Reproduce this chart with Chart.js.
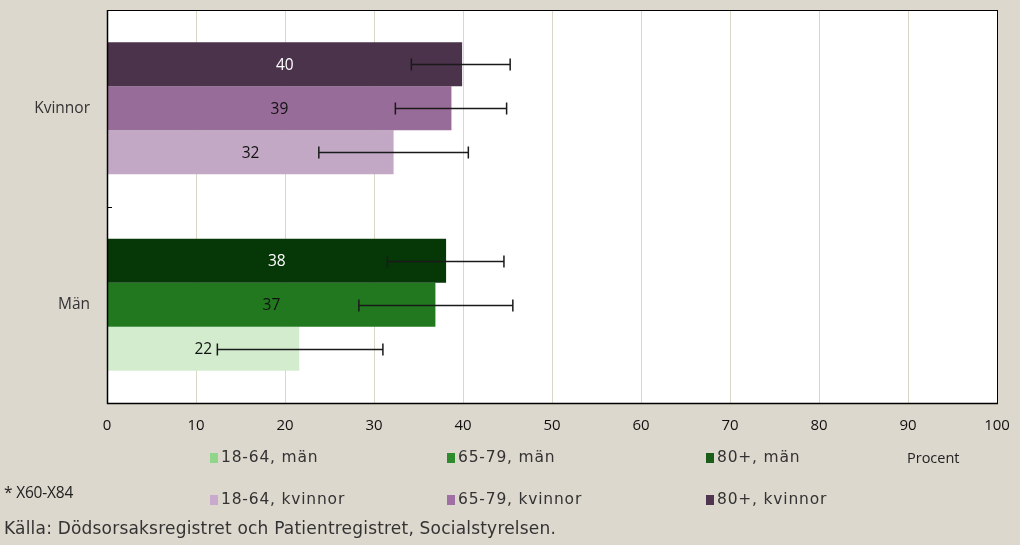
<!DOCTYPE html>
<html>
<head>
<meta charset="utf-8">
<script src="https://cdn.jsdelivr.net/npm/chart.js@4"></script>
<style>
  html, body { margin:0; padding:0; background:#ddd8ce; }
  #wrap { position:relative; width:1020px; height:545px; overflow:hidden; background:#ddd8ce; }
  canvas { position:absolute; left:0; top:0; }
  .lg { position:absolute; font-family:"DejaVu Sans", sans-serif; font-size:15.5px; color:#333; white-space:nowrap; letter-spacing:0.8px; }
  .sw { position:absolute; width:8px; height:10px; }
  .txt { position:absolute; white-space:nowrap; color:#222; }
</style>
</head>
<body>
<div id="wrap">
  <canvas id="c" width="1020" height="545"></canvas>
  <div id="legend"></div>
  <div class="txt" style="left:907px; top:448px; font-family:'Open Sans',sans-serif; font-size:14.5px;">Procent</div>
  <div class="txt" style="left:4px; top:481px; font-family:'Open Sans',sans-serif; font-size:15.5px; letter-spacing:-0.2px;">* X60-X84</div>
  <div class="txt" style="left:4px; top:518px; font-family:'DejaVu Sans',sans-serif; font-size:17px; color:#333; letter-spacing:0.2px;">Källa: Dödsorsaksregistret och Patientregistret, Socialstyrelsen.</div>
</div>
<script>
// ---- Data ----
const categories = ["Kvinnor", "Män"];
const ageGroups = ["80+", "65-79", "18-64"];
const values80 = [39.9, 38.1];
const values6579 = [38.7, 36.9];
const values1864 = [32.2, 21.6];
const errLow80 = [34.2, 31.5];
const errHigh80 = [45.3, 44.6];
const errLow6579 = [32.4, 28.3];
const errHigh6579 = [44.9, 45.6];
const errLow1864 = [23.8, 12.4];
const errHigh1864 = [40.6, 31.0];
const legendLabels = ["18-64, män", "65-79, män", "80+, män", "18-64, kvinnor", "65-79, kvinnor", "80+, kvinnor"];

// ---- Styles ----
const colors80 = ["#4b334b", "#063807"];
const colors6579 = ["#986c98", "#22781f"];
const colors1864 = ["#c2a8c4", "#d3ecce"];
const labelColors80 = ["#ffffff", "#ffffff"];
const labelColors6579 = ["#111111", "#111111"];
const labelColors1864 = ["#111111", "#111111"];
const legendColors = ["#8fd68a", "#2e8b2e", "#1a5e1a", "#c9a9cc", "#a070a4", "#4f3550"];

const datasets = [
  { label: ageGroups[0], data: values80, backgroundColor: colors80, errLow: errLow80, errHigh: errHigh80, labelColor: labelColors80 },
  { label: ageGroups[1], data: values6579, backgroundColor: colors6579, errLow: errLow6579, errHigh: errHigh6579, labelColor: labelColors6579 },
  { label: ageGroups[2], data: values1864, backgroundColor: colors1864, errLow: errLow1864, errHigh: errHigh1864, labelColor: labelColors1864 }
].map(d => Object.assign(d, { barPercentage: 1.0, categoryPercentage: 0.672, borderWidth: 0 }));

// legend (HTML)
const lg = document.getElementById('legend');
const colX = [210, 447, 706];
const rowY = [458, 500];
legendLabels.forEach((t, i) => {
  const r = Math.floor(i / 3), c = i % 3;
  const sw = document.createElement('div');
  sw.className = 'sw';
  sw.style.left = colX[c] + 'px';
  sw.style.top = (rowY[r] - 5) + 'px';
  sw.style.background = legendColors[i];
  lg.appendChild(sw);
  const tx = document.createElement('div');
  tx.className = 'lg';
  tx.style.left = (colX[c] + 11) + 'px';
  tx.style.top = (rowY[r] - 10) + 'px';
  tx.textContent = t;
  lg.appendChild(tx);
});

const frame = {
  id: 'frame',
  afterDatasetsDraw(chart) {
    const ctx = chart.ctx, a = chart.chartArea;
    ctx.save();
    ctx.strokeStyle = '#1a1a1a';
    ctx.lineWidth = 1.5;
    const xs = chart.scales.x;
    chart.data.datasets.forEach((ds, di) => {
      const meta = chart.getDatasetMeta(di);
      meta.data.forEach((bar, i) => {
        const y = Math.round(bar.y) + 0.5;
        const x1 = xs.getPixelForValue(ds.errLow[i]);
        const x2 = xs.getPixelForValue(ds.errHigh[i]);
        ctx.beginPath();
        ctx.moveTo(x1, y); ctx.lineTo(x2, y);
        ctx.moveTo(x1, y - 6); ctx.lineTo(x1, y + 6);
        ctx.moveTo(x2, y - 6); ctx.lineTo(x2, y + 6);
        ctx.stroke();
        ctx.fillStyle = ds.labelColor[i];
        ctx.font = '15.5px "Open Sans", sans-serif';
        ctx.textAlign = 'center';
        ctx.textBaseline = 'middle';
        ctx.fillText(String(Math.round(ds.data[i])), (bar.x + bar.base) / 2, bar.y + 1);
      });
    });
    ctx.strokeStyle = '#000';
    ctx.lineWidth = 1;
    ctx.strokeRect(Math.round(a.left) + 0.5, Math.round(a.top) + 0.5, Math.round(a.right - a.left), Math.round(a.bottom - a.top));
    ctx.lineWidth = 1.5;
    ctx.beginPath();
    ctx.moveTo(a.left + 0.5, a.top); ctx.lineTo(a.left + 0.5, a.bottom + 1);
    ctx.moveTo(a.left, a.bottom + 0.5); ctx.lineTo(a.right + 1, a.bottom + 0.5);
    ctx.stroke();
    const ys = chart.scales.y;
    const yb = Math.round((ys.getPixelForValue(0) + ys.getPixelForValue(1)) / 2) + 0.5;
    ctx.lineWidth = 1;
    ctx.beginPath();
    ctx.moveTo(a.left, yb); ctx.lineTo(a.left + 5, yb);
    ctx.stroke();
    ctx.restore();
  },
  beforeDraw(chart) {
    const ctx = chart.ctx, a = chart.chartArea;
    ctx.save();
    ctx.fillStyle = '#ddd8ce';
    ctx.fillRect(0, 0, chart.width, chart.height);
    ctx.fillStyle = '#ffffff';
    ctx.fillRect(a.left, a.top, a.right - a.left, a.bottom - a.top);
    ctx.restore();
  }
};

new Chart(document.getElementById('c'), {
  type: 'bar',
  data: { labels: categories, datasets },
  options: {
    indexAxis: 'y',
    responsive: false,
    devicePixelRatio: 1,
    animation: false,
    layout: { padding: { left: 0, right: 23, top: 10, bottom: 112 } },
    plugins: { legend: { display: false }, tooltip: { enabled: false } },
    scales: {
      x: {
        min: 0, max: 100,
        ticks: { stepSize: 10, color: '#111', font: { family: 'Open Sans', size: 15 }, padding: 14 },
        grid: { color: '#dcd6c6', lineWidth: 1, drawTicks: false },
        border: { display: false },
        afterFit(s) { s.height = 30; s.paddingLeft = 0; s.paddingRight = 0; }
      },
      y: {
        ticks: { color: '#333', font: { family: 'Open Sans', size: 15.5 }, padding: 17 },
        grid: { display: false, drawTicks: false },
        border: { display: false },
        afterFit(s) { s.width = 107; s.paddingTop = 0; s.paddingBottom = 0; }
      }
    }
  },
  plugins: [frame]
});
</script>
</body>
</html>
